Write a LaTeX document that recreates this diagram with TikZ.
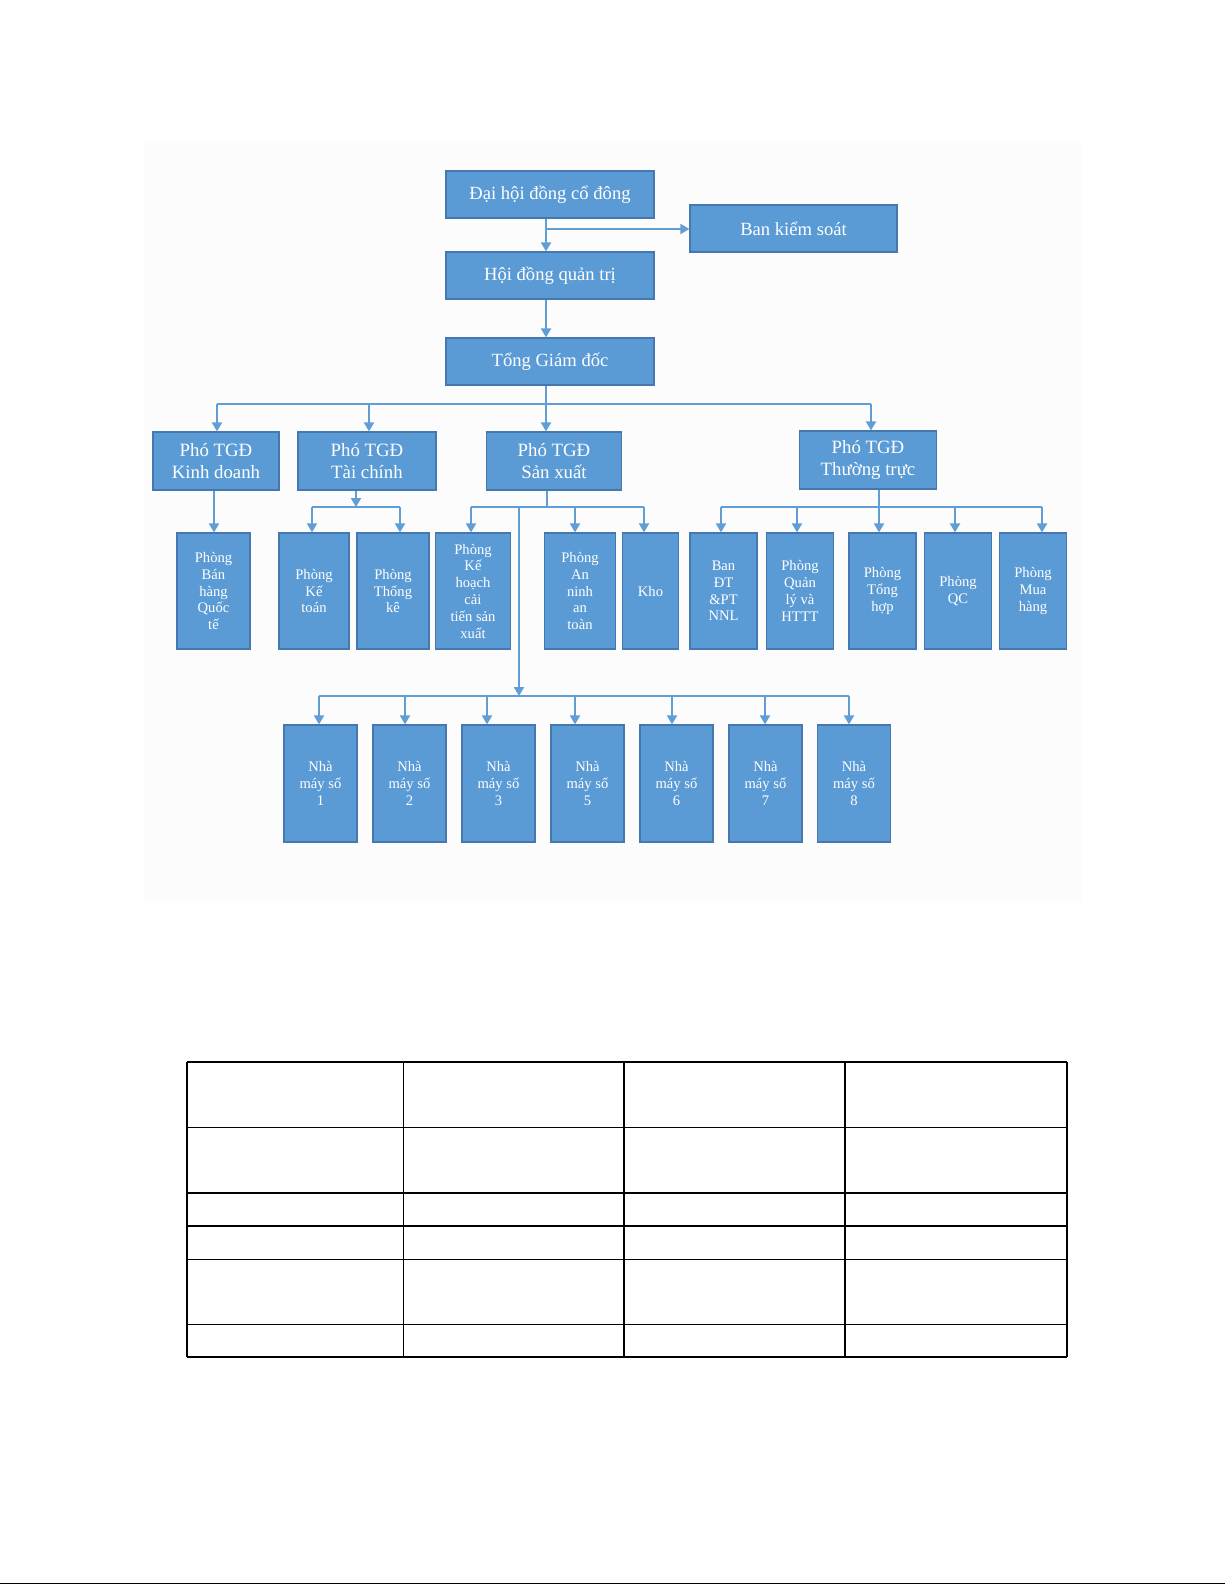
\documentclass[tikz,border=0pt]{standalone}
\usepackage{fontspec}
\setmainfont{Liberation Serif}
\usetikzlibrary{arrows.meta}
\definecolor{boxblue}{RGB}{91,155,213}
\definecolor{boxedge}{RGB}{70,120,175}
\definecolor{lineblue}{RGB}{98,158,214}
\definecolor{bgpaper}{RGB}{252,252,252}
\newcommand\mybox[7]{\node[box,font=#7,minimum width={#4*0.5pt},minimum height={#5*0.5pt}] (#1) at (#2,#3) {#6};}
\begin{document}
\begin{tikzpicture}[x=0.5pt,y=-0.5pt,
  box/.style={draw=boxedge,line width=0.6pt,fill=boxblue,text=white,align=center,inner sep=0pt},
  conn/.style={draw=lineblue,line width=1pt},
  arr/.style={conn,-{Triangle[width=5pt,length=4.5pt]}},
  tline/.style={draw=black,line width=0.7pt}]
\useasboundingbox (0,0) rectangle (1225,1585);
\fill[bgpaper] (144,143) rectangle (1081,903);
% fonts
\def\fbig{\fontsize{9.3}{11}\selectfont}
\def\fmid{\fontsize{9.4}{10.8}\selectfont}
\def\fsm{\fontsize{7.3}{8.4}\selectfont}
% top boxes
\mybox{dhcd}{550}{194.5}{208}{47}{Đại hội đồng cổ đông}{\fbig}
\mybox{bks}{793.5}{228.5}{207}{47}{Ban kiểm soát}{\fbig}
\mybox{hdqt}{550}{275.5}{208}{47}{Hội đồng quản trị}{\fbig}
\mybox{tgd}{550}{361.5}{208}{47}{Tổng Giám đốc}{\fbig}
% deputies
\mybox{pkd}{216}{461}{126}{58}{Phó TGĐ\\Kinh doanh}{\fmid}
\mybox{ptc}{367}{461}{138}{58}{Phó TGĐ\\Tài  chính}{\fmid}
\mybox{psx}{554}{461}{135}{58}{Phó TGĐ\\Sản xuất}{\fmid}
\mybox{ptt}{868}{460}{137}{58}{Phó TGĐ\\Thường trực}{\fmid}
% departments
\mybox{bh}{213.5}{591}{73}{116}{Phòng\\Bán\\hàng\\Quốc\\tế}{\fsm}
\mybox{kt}{314}{591}{70}{116}{Phòng\\Kế\\toán}{\fsm}
\mybox{tk}{393}{591}{72}{116}{Phòng\\Thống\\kê}{\fsm}
\mybox{kh}{473}{591}{75}{116}{Phòng\\Kế\\hoạch\\cải\\tiến sản\\xuất}{\fsm}
\mybox{an}{580}{591}{71}{116}{Phòng\\An\\ninh\\an\\toàn}{\fsm}
\mybox{kho}{650.5}{591}{56}{116}{Kho}{\fsm}
\mybox{bdt}{723.5}{591}{67}{116}{Ban\\ĐT\\\&PT\\NNL}{\fsm}
\mybox{pql}{800}{591}{67}{116}{Phòng\\Quản\\lý và\\HTTT}{\fsm}
\mybox{pth}{882.5}{591}{67}{116}{Phòng\\Tổng\\hợp}{\fsm}
\mybox{qc}{958}{591}{67}{116}{Phòng\\QC}{\fsm}
\mybox{mh}{1033}{591}{67}{116}{Phòng\\Mua\\hàng}{\fsm}
% factories
\mybox{nm1}{320.5}{783.5}{73}{117}{Nhà\\máy số\\1}{\fsm}
\mybox{nm2}{409.5}{783.5}{73}{117}{Nhà\\máy số\\2}{\fsm}
\mybox{nm3}{498.5}{783.5}{73}{117}{Nhà\\máy số\\3}{\fsm}
\mybox{nm5}{587.5}{783.5}{73}{117}{Nhà\\máy số\\5}{\fsm}
\mybox{nm6}{676.5}{783.5}{73}{117}{Nhà\\máy số\\6}{\fsm}
\mybox{nm7}{765.5}{783.5}{73}{117}{Nhà\\máy số\\7}{\fsm}
\mybox{nm8}{854}{783.5}{73}{117}{Nhà\\máy số\\8}{\fsm}
% top connectors
\coordinate (j1) at (546,229);
\draw[arr] (dhcd.south -| j1) -- (hdqt.north -| j1);
\draw[arr] (j1) -- (bks.west |- j1);
\draw[arr] (hdqt.south -| j1) -- (tgd.north -| j1);
% bus under Tong Giam doc
\coordinate (b1) at (546,404);
\coordinate (b1l) at (217,404);
\coordinate (b1r) at (871,404);
\draw[conn] (tgd.south -| b1) -- (b1);
\draw[conn] (b1l) -- (b1r);
\draw[arr] (b1l) -- (b1l |- pkd.north);
\coordinate (b1c) at (369,404);
\draw[arr] (b1c) -- (b1c |- ptc.north);
\draw[arr] (b1) -- (b1 |- psx.north);
\draw[arr] (b1r) -- (b1r |- ptt.north);
% Kinh doanh
\coordinate (kdx) at (214,490);
\draw[arr] (kdx |- pkd.south) -- (kdx |- bh.north);
% Tai chinh
\coordinate (tcj) at (356,507);
\coordinate (tcl) at (312,507);
\coordinate (tcr) at (400,507);
\draw[arr] (tcj |- ptc.south) -- (tcj);
\draw[conn] (tcl) -- (tcr);
\draw[arr] (tcl) -- (tcl |- kt.north);
\draw[arr] (tcr) -- (tcr |- tk.north);
% San xuat
\coordinate (sxj) at (547,507);
\coordinate (sxl) at (471,507);
\coordinate (sxr) at (644,507);
\coordinate (sxa) at (575,507);
\coordinate (sxd) at (519,507);
\draw[conn] (sxj |- psx.south) -- (sxj);
\draw[conn] (sxl) -- (sxr);
\draw[arr] (sxl) -- (sxl |- kh.north);
\draw[arr] (sxa) -- (sxa |- an.north);
\draw[arr] (sxr) -- (sxr |- kho.north);
% factories bus
\coordinate (nmj) at (519,696);
\draw[arr] (sxd) -- (nmj);
\coordinate (n1) at (319,696);
\coordinate (n2) at (405,696);
\coordinate (n3) at (487,696);
\coordinate (n5) at (575,696);
\coordinate (n6) at (672,696);
\coordinate (n7) at (765,696);
\coordinate (n8) at (849,696);
\draw[conn] (n1) -- (n8);
\draw[arr] (n1) -- (n1 |- nm1.north);
\draw[arr] (n2) -- (n2 |- nm2.north);
\draw[arr] (n3) -- (n3 |- nm3.north);
\draw[arr] (n5) -- (n5 |- nm5.north);
\draw[arr] (n6) -- (n6 |- nm6.north);
\draw[arr] (n7) -- (n7 |- nm7.north);
\draw[arr] (n8) -- (n8 |- nm8.north);
% Thuong truc
\coordinate (ttj) at (879,507);
\coordinate (ttl) at (721,507);
\coordinate (ttq) at (797,507);
\coordinate (ttc) at (955,507);
\coordinate (ttr) at (1042,507);
\draw[arr] (ttj |- ptt.south) -- (ttj |- pth.north);
\draw[conn] (ttl) -- (ttr);
\draw[arr] (ttl) -- (ttl |- bdt.north);
\draw[arr] (ttq) -- (ttq |- pql.north);
\draw[arr] (ttc) -- (ttc |- qc.north);
\draw[arr] (ttr) -- (ttr |- mh.north);
% empty table
\foreach \yy in {1062,1127.5,1193,1226,1259.5,1324.5,1357}
  \draw[tline] (187,\yy) -- (1067,\yy);
\foreach \xx in {187,403.5,624,845,1067}
  \draw[tline] (\xx,1062) -- (\xx,1357);
% bottom rule
\draw[black,line width=0.8pt] (0,1583.5) -- (1225,1583.5);
\end{tikzpicture}
\end{document}
